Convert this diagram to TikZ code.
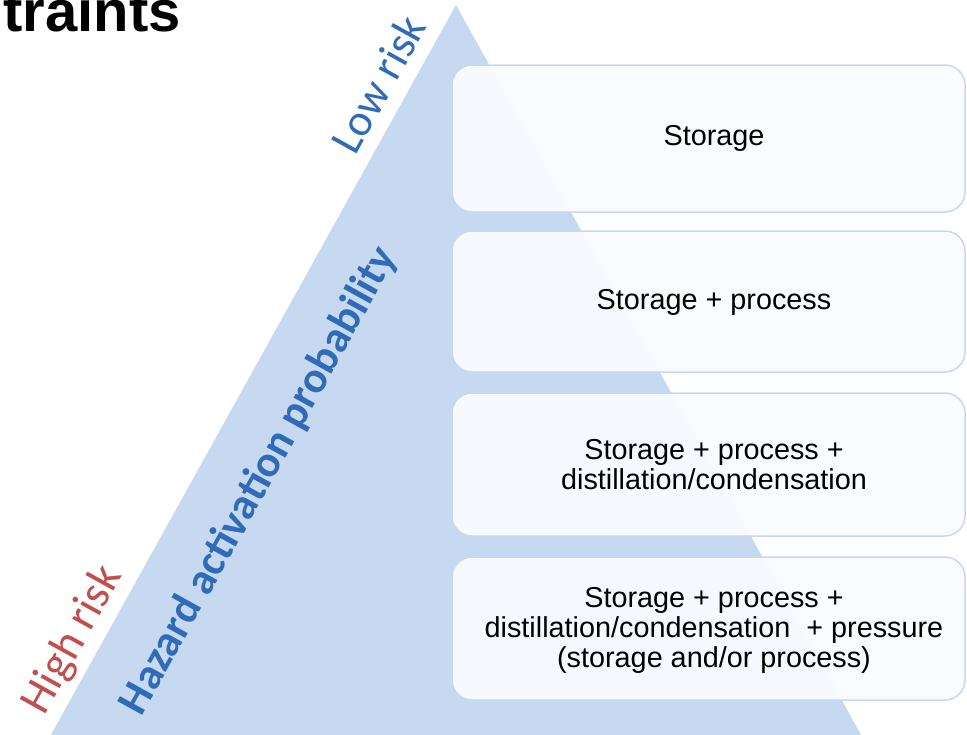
\documentclass[tikz,border=0pt]{standalone}
\usepackage{fontspec}
\setmainfont{Liberation Sans}
\newfontfamily\calib{Carlito}
\definecolor{tri}{RGB}{198,217,240}
\definecolor{boxfill}{RGB}{250,251,254}
\definecolor{riskblue}{RGB}{47,107,183}
\definecolor{riskred}{RGB}{192,80,77}
\tikzset{
  levelbox/.style={draw=tri, line width=1.5pt, fill=boxfill, fill opacity=0.94, draw opacity=1, rounded corners=20pt},
  leveltext/.style={font=\fontsize{28.8}{30}\selectfont, align=center, text=black, inner sep=0pt},
  sidelabel/.style={rotate=61, inner sep=0pt, anchor=center}
}
\begin{document}
\begin{tikzpicture}[x=1pt,y=-1pt]
\useasboundingbox (0,0) rectangle (967,734);
\clip (0,0) rectangle (967,734);
\fill[white] (0,0) rectangle (967,734);
% pyramid
\fill[tri] (456,5) -- (869.5,750) -- (42.5,750) -- cycle;
% title fragment
\node[anchor=base east, inner sep=0pt, font=\bfseries\fontsize{58}{58}\selectfont] (title) at (181,31) {traints};
% boxes
\draw[levelbox] (452,65) rectangle (965,212);
\draw[levelbox] (452,231) rectangle (965,372);
\draw[levelbox] (452,393) rectangle (965,536);
\draw[levelbox] (452,557) rectangle (965,700);
\node[leveltext] (l1) at (714,138) {Storage};
\node[leveltext] (l2) at (714,302) {Storage + process};
\node[leveltext] (l3) at (714,465) {Storage + process +\\distillation/condensation};
\node[leveltext] (l4) at (714,630) {Storage + process +\\distillation/condensation\ \ + pressure\\(storage and/or process)};
% side labels
\node[sidelabel, text=riskblue, font=\calib\fontsize{45}{45}\selectfont] (low) at (378,84) {Low risk};
\node[sidelabel, text=riskred, font=\calib\fontsize{46}{46}\selectfont] (high) at (73,640) {High risk};
\node[sidelabel, text=riskblue, font=\calib\bfseries\fontsize{44}{44}\selectfont] (hazard) at (259,481) {Hazard activation probability};
\end{tikzpicture}
\end{document}
